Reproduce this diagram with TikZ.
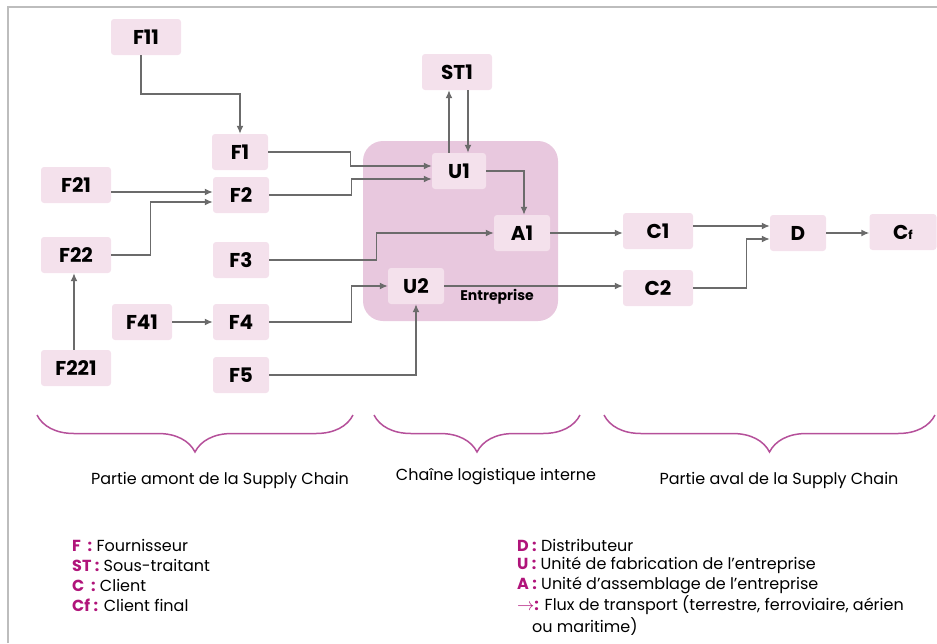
\documentclass[tikz,border=0pt]{standalone}
\usepackage{fontspec}
\setmainfont{Poppins}
\usepackage{tikz}
\usetikzlibrary{arrows.meta,decorations.pathreplacing}
\usepackage{xcolor}
\definecolor{boxpink}{HTML}{F4E1EC}
\definecolor{entbg}{HTML}{E8C8DE}
\definecolor{flowgray}{HTML}{6B6B6B}
\definecolor{bracecol}{HTML}{B5509A}
\definecolor{keycol}{HTML}{B0147A}
\definecolor{framegray}{HTML}{BDBDBD}

\tikzset{
  box/.style={fill=boxpink, rounded corners=3pt, minimum width=56pt, minimum height=36pt,
    inner sep=0pt, font=\fontsize{20}{24}\selectfont\bfseries},
  wide/.style={minimum width=70pt},
  flow/.style={draw=flowgray, line width=1.4pt, -{Latex[length=8pt,width=7pt]}},
  curly/.style={draw=bracecol, line width=1.5pt, decorate,
    decoration={brace, mirror, amplitude=37pt}},
  part/.style={font=\fontsize{16}{19}\selectfont},
  legend/.style={anchor=west, inner sep=0pt, font=\fontsize{16}{19}\selectfont},
}
\newcommand{\key}[1]{\textcolor{keycol}{\bfseries #1}}

\begin{document}
\begin{tikzpicture}[x=1pt,y=-1pt]
\useasboundingbox (0,0) rectangle (937,643);
\draw[framegray, line width=2pt] (8,643) -- (8,7) -- (937,7);

% entreprise
\fill[entbg, rounded corners=20pt] (363,141) rectangle (558,321);
\node[font=\fontsize{14}{17}\selectfont\bfseries] (ent) at (497,297) {Entreprise};

% amont
\node[box, wide] (F11) at (146,37) {F11};
\node[box] (F1) at (240,152) {F1};
\node[box, wide] (F21) at (76,185) {F21};
\node[box] (F2) at (241,195) {F2};
\node[box, wide] (F22) at (76,255) {F22};
\node[box] (F3) at (241,260) {F3};
\node[box, minimum width=60pt] (F41) at (142,322) {F41};
\node[box] (F4) at (241,322) {F4};
\node[box, wide] (F221) at (76,368) {F221};
\node[box] (F5) at (241,375) {F5};

% interne
\node[box, wide] (ST1) at (457,72) {ST1};
\node[box, minimum width=54pt] (U1) at (459,171) {U1};
\node[box] (A1) at (522,233) {A1};
\node[box] (U2) at (416,286) {U2};

% aval
\node[box, wide] (C1) at (658,231) {C1};
\node[box, wide] (C2) at (658,288) {C2};
\node[box] (D) at (798,233) {D};
\node[box, minimum width=67pt] (Cf) at (903,232) {C{\fontsize{12}{12}\selectfont f}};

% flux
\draw[flow] ([xshift=-5pt]F11.south) |- ([yshift=40pt]F1.north) -- (F1.north);
\draw[flow] (F1.east) -- ++(82,0) |- ([yshift=5pt]U1.west);
\draw[flow] (F2.east) -- ++(82,0) |- ([yshift=-8pt]U1.west);
\draw[flow] ([yshift=-7pt]F21.east) -- ([yshift=-7pt]F21.east -| F2.west);
\draw[flow] (F22.east) -- ++(39,0) |- ([yshift=-7pt]F2.west);
\draw[flow] ([xshift=-2pt]F221.north) -- ([xshift=-2pt]F22.south);
\draw[flow] (F3.east) -- ++(107,0) |- (A1.west);
\draw[flow] (F41.east) -- (F4.west);
\draw[flow] (F4.east) -- ++(82,0) |- (U2.west);
\draw[flow] (F5.east) -| (U2.south);
\draw[flow] ([xshift=-10pt]U1.north) -- ([xshift=-10pt]U1.north |- ST1.south);
\draw[flow] ([xshift=9pt]U1.north |- ST1.south) -- ([xshift=9pt]U1.north);
\draw[flow] (U1.east) -| ([xshift=2pt]A1.north);
\draw[flow] (A1.east) -- (A1.east -| C1.west);
\draw[flow] (U2.east) -- (U2.east -| C2.west);
\draw[flow] ([yshift=5pt]C1.east) -- ([yshift=5pt]C1.east -| D.west);
\draw[flow] (C2.east) -- ++(53,0) |- ([yshift=-6pt]D.west);
\draw[flow] (D.east) -- (D.east -| Cf.west);

% accolades
\draw[curly] (37,415) -- (353,415);
\draw[curly] (374,415) -- (580,415);
\draw[curly] (604,415) -- (935,415);
\node[part] (amont) at (220,480) {Partie amont de la Supply Chain};
\node[part] (interne) at (496,477) {Chaîne logistique interne};
\node[part] (aval) at (779,480) {Partie aval de la Supply Chain};

% legende
\node[legend] (lF) at (72,545) {\key{F\ \ :} Fournisseur};
\node[legend] (lST) at (72,565) {\key{ST :} Sous-traitant};
\node[legend] (lC) at (72,585) {\key{C\ \ :} Client};
\node[legend] (lCf) at (72,605) {\key{Cf :} Client final};
\node[legend] (lD) at (517,545) {\key{D :} Distributeur};
\node[legend] (lU) at (517,565) {\key{U :} Unité de fabrication de l'entreprise};
\node[legend] (lA) at (517,585) {\key{A :} Unité d'assemblage de l'entreprise};
\node[legend] (lflux) at (517,605) {\key{$\rightarrow$:} Flux de transport (terrestre, ferroviaire, aérien};
\node[legend] (lflux2) at (532,627) {ou maritime)};
\end{tikzpicture}
\end{document}
